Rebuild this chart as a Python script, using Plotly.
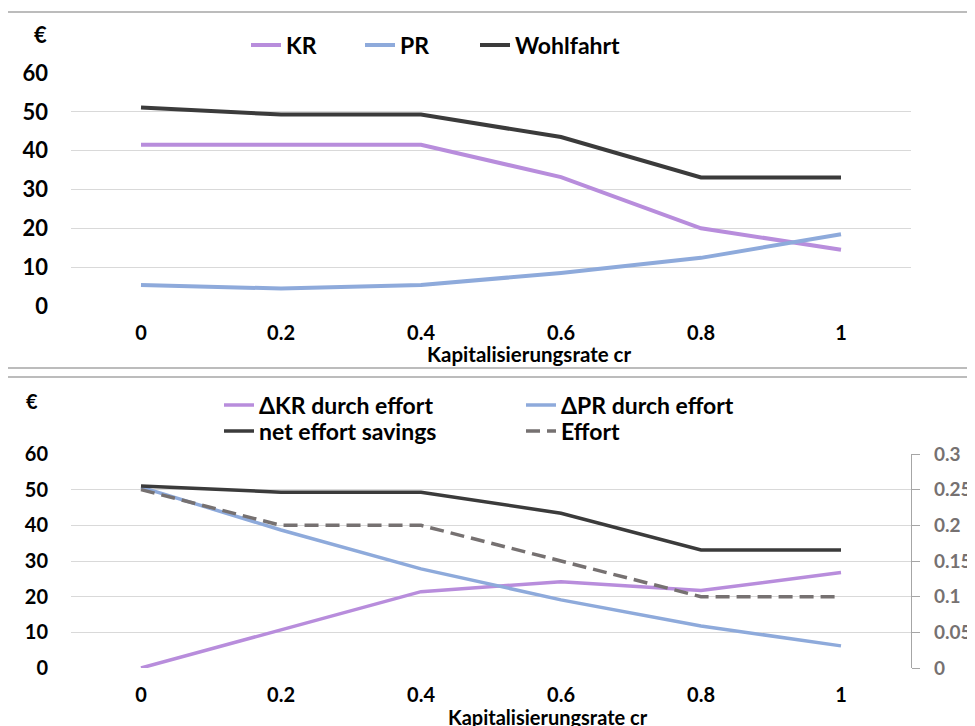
import plotly.graph_objects as go

# ---- data ----
cr = ["0", "0.2", "0.4", "0.6", "0.8", "1"]
kr = [41.5, 41.5, 41.5, 33.2, 20.0, 14.5]
pr = [5.4, 4.5, 5.4, 8.5, 12.4, 18.5]
wohlfahrt = [51.1, 49.3, 49.3, 43.5, 33.1, 33.1]

d_kr = [0.0, 10.6, 21.4, 24.2, 21.7, 26.8]
d_pr = [50.7, 38.7, 27.8, 19.1, 11.8, 6.2]
net_savings = [51.0, 49.3, 49.3, 43.4, 33.1, 33.1]
effort = [0.25, 0.2, 0.2, 0.15, 0.1, 0.1]

W, H = 975, 726
OFF = 8  # page body offset
PURPLE = "#b88ddc"
BLUE = "#8eaadb"
DARK = "#3b3b3b"
GRAY = "#767171"
GRID = "#d9d9d9"
FONT = "Lato"

def px(x):
    return (x - OFF) / W

def py(y):
    return (H - (y - OFF)) / H

fig = go.Figure()
# top panel
fig.add_trace(go.Scatter(x=cr, y=kr, name="KR", mode="lines",
                         line=dict(color=PURPLE, width=4), xaxis="x", yaxis="y", legend="legend"))
fig.add_trace(go.Scatter(x=cr, y=pr, name="PR", mode="lines",
                         line=dict(color=BLUE, width=4), xaxis="x", yaxis="y", legend="legend2"))
fig.add_trace(go.Scatter(x=cr, y=wohlfahrt, name="Wohlfahrt", mode="lines",
                         line=dict(color=DARK, width=4), xaxis="x", yaxis="y", legend="legend3"))
# bottom panel
fig.add_trace(go.Scatter(x=cr, y=d_kr, name="ΔKR durch effort", mode="lines",
                         line=dict(color=PURPLE, width=3.5), xaxis="x2", yaxis="y2", legend="legend4"))
fig.add_trace(go.Scatter(x=cr, y=d_pr, name="ΔPR durch effort", mode="lines",
                         line=dict(color=BLUE, width=3.5), xaxis="x2", yaxis="y2", legend="legend5"))
fig.add_trace(go.Scatter(x=cr, y=net_savings, name="net effort savings", mode="lines",
                         line=dict(color=DARK, width=3.5), xaxis="x2", yaxis="y2", legend="legend6"))
fig.add_trace(go.Scatter(x=cr, y=effort, name="Effort", mode="lines",
                         line=dict(color=GRAY, width=3.5, dash="14px,7px"), xaxis="x2", yaxis="y3", legend="legend7"))

xdom = [px(71), px(911)]
ydom_top = [py(306), py(73)]
ydom_bot = [py(668), py(454)]

xcommon = dict(type="category", range=[-0.5, 5.5], showgrid=False, zeroline=False,
               showline=False, ticks="", ticklabelstandoff=13, automargin=False,
               tickfont=dict(family=FONT, size=20, color="black", weight="bold"))


def leg(x, y, size):
    return dict(orientation="v", x=px(x), y=py(y), xanchor="left", yanchor="middle",
                bgcolor="rgba(0,0,0,0)", borderwidth=0, itemclick=False, itemdoubleclick=False,
                font=dict(family=FONT, size=size, color="black", weight="bold"))


fig.update_layout(
    width=W, height=H,
    margin=dict(l=0, r=0, t=0, b=0),
    paper_bgcolor="white", plot_bgcolor="white",
    font=dict(family=FONT, color="black"),
    xaxis=dict(domain=xdom, anchor="y", **xcommon),
    yaxis=dict(domain=ydom_top, anchor="x", range=[0, 60], dtick=10, showgrid=True,
               gridcolor=GRID, gridwidth=1.3, zeroline=False, showline=False, ticks="",
               ticklabelstandoff=22, automargin=False,
               tickfont=dict(family=FONT, size=22, color="black", weight="bold")),
    xaxis2=dict(domain=xdom, anchor="y2", **xcommon),
    yaxis2=dict(domain=ydom_bot, anchor="x2", range=[0, 60], dtick=10, showgrid=True,
                gridcolor=GRID, gridwidth=1.3, zeroline=False, showline=False, ticks="",
                ticklabelstandoff=22, automargin=False,
                tickfont=dict(family=FONT, size=20, color="black", weight="bold")),
    yaxis3=dict(overlaying="y2", anchor="x2", side="right", range=[0, 0.3], dtick=0.05,
                showgrid=False, zeroline=False, showline=True, linecolor="#a6a6a6", linewidth=1.3,
                ticks="outside", ticklen=8, tickcolor="#a6a6a6", tickwidth=1.3,
                ticklabelstandoff=10, automargin=False,
                tickfont=dict(family=FONT, size=19, color=GRAY, weight="bold")),
    legend=leg(246, 45, 23),
    legend2=leg(360, 45, 23),
    legend3=leg(475, 45, 23),
    legend4=leg(219, 405, 23),
    legend5=leg(521, 405, 23),
    legend6=leg(219, 431, 23),
    legend7=leg(521, 431, 23),
    showlegend=True,
)

# panel borders
fig.add_shape(type="rect", xref="paper", yref="paper", x0=px(7), x1=1.02, y0=py(368), y1=py(12),
              line=dict(color="#a6a6a6", width=1.5), fillcolor="rgba(0,0,0,0)", layer="below")
fig.add_shape(type="rect", xref="paper", yref="paper", x0=px(7), x1=1.02, y0=-0.02, y1=py(377),
              line=dict(color="#a6a6a6", width=1.5), fillcolor="rgba(0,0,0,0)", layer="below")

# text annotations
ann_font = dict(family=FONT, color="black", weight="bold")
fig.add_annotation(text="€", xref="paper", yref="paper", x=px(40), y=py(35),
                   showarrow=False, xanchor="center", yanchor="middle", font=dict(size=22, **ann_font))
fig.add_annotation(text="€", xref="paper", yref="paper", x=px(32), y=py(401),
                   showarrow=False, xanchor="center", yanchor="middle", font=dict(size=20, **ann_font))
fig.add_annotation(text="Kapitalisierungsrate cr", xref="paper", yref="paper", x=px(529), y=py(354),
                   showarrow=False, xanchor="center", yanchor="middle", font=dict(size=20.5, **ann_font))
fig.add_annotation(text="Kapitalisierungsrate cr", xref="paper", yref="paper", x=px(548), y=py(717),
                   showarrow=False, xanchor="center", yanchor="middle", font=dict(size=20, **ann_font))

fig.write_html("out.html")
